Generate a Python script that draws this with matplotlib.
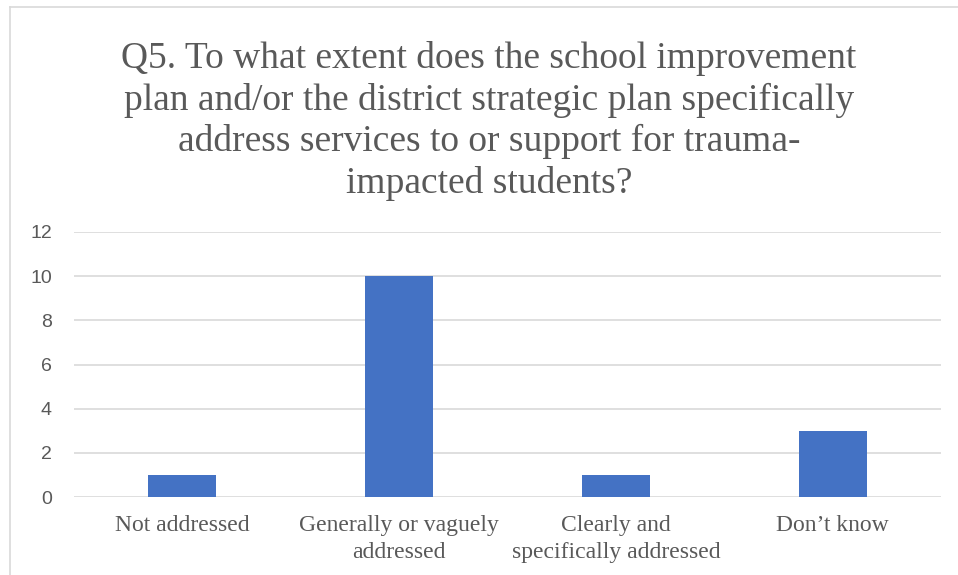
import matplotlib
matplotlib.use("Agg")
import matplotlib.pyplot as plt
from matplotlib.lines import Line2D

categories = ["Not addressed", "Generally or vaguely\naddressed",
              "Clearly and\nspecifically addressed", "Don\u2019t know"]
values = [1, 10, 1, 3]
yticks = [0, 2, 4, 6, 8, 10, 12]
title = ("Q5. To what extent does the school improvement\n"
         "plan and/or the district strategic plan specifically\n"
         "address services to or support for trauma-\n"
         "impacted students?")

W, H = 958, 575
fig = plt.figure(figsize=(W / 100, H / 100), dpi=100)
ax = fig.add_axes([74 / W, 1 - 497 / H, (941 - 74) / W, (497 - 232) / H])

x = list(range(len(categories)))
ax.bar(x, values, width=0.314, color="#4472C4", zorder=3)
ax.set_xlim(-0.5, len(categories) - 0.5)
ax.set_ylim(0, 12)
ax.set_yticks(yticks)
ax.set_yticklabels([str(v) for v in yticks], fontfamily="Liberation Sans",
                   fontsize=14, color="#595959")
ax.set_xticks(x)
ax.set_xticklabels(categories, fontfamily="Liberation Serif", fontsize=17,
                   color="#595959", linespacing=1.38)
ax.tick_params(axis="both", length=0)
ax.tick_params(axis="y", pad=16)
ax.tick_params(axis="x", pad=13)
ax.grid(axis="y", color="#D9D9D9", linewidth=1.2, zorder=0)
for s in ax.spines.values():
    s.set_visible(False)

fig.text(489 / W, 1 - 121 / H, title, ha="center", va="center",
         fontfamily="Liberation Serif", fontsize=27, color="#595959",
         linespacing=1.24)

# chart border
fig.add_artist(Line2D([10 / W, 1], [1 - 7 / H, 1 - 7 / H], color="#D9D9D9", lw=1.2,
                      transform=fig.transFigure))
fig.add_artist(Line2D([10 / W, 10 / W], [1 - 7 / H, 0], color="#D9D9D9", lw=1.2,
                      transform=fig.transFigure))

fig.savefig("out.png", dpi=100)
